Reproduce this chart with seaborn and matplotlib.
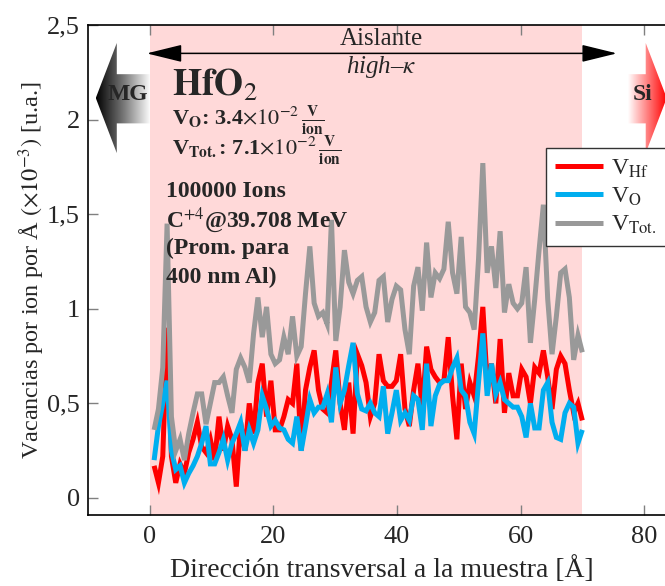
import numpy as np
import pandas as pd
import matplotlib
matplotlib.use("Agg")
import matplotlib.pyplot as plt
import seaborn as sns
from matplotlib.patches import Polygon
from matplotlib.colors import LinearSegmentedColormap

# ---------------- data ----------------
depth = np.round(np.arange(1, 101) * 0.7, 2)  # bin positions (Å)

v_hf = [0.17, 0.08, 0.22, 0.90, 0.22, 0.08, 0.18, 0.13, 0.24, 0.31,
        0.40, 0.27, 0.24, 0.31, 0.20, 0.43, 0.25, 0.38, 0.31, 0.06,
        0.40, 0.25, 0.50, 0.34, 0.61, 0.71, 0.43, 0.62, 0.36, 0.36,
        0.43, 0.52, 0.50, 0.71, 0.25, 0.57, 0.69, 0.78, 0.57, 0.47,
        0.45, 0.61, 0.78, 0.50, 0.36, 0.61, 0.34, 0.76, 0.70, 0.61,
        0.43, 0.50, 0.76, 0.62, 0.59, 0.59, 0.62, 0.76, 0.47, 0.38,
        0.57, 0.71, 0.47, 0.80, 0.68, 0.64, 0.61, 0.62, 0.85, 0.54,
        0.31, 0.71, 0.47, 0.61, 0.54, 0.75, 1.01, 0.61, 0.71, 0.50,
        0.84, 0.45, 0.66, 0.54, 0.54, 0.68, 0.64, 0.50, 0.69, 0.66,
        0.78, 0.64, 0.47, 0.68, 0.75, 0.71, 0.57, 0.45, 0.50, 0.41]

v_o = [0.20, 0.38, 0.50, 0.62, 0.25, 0.15, 0.17, 0.08, 0.13, 0.17,
       0.22, 0.29, 0.38, 0.18, 0.18, 0.24, 0.31, 0.20, 0.29, 0.34,
       0.40, 0.25, 0.36, 0.29, 0.36, 0.54, 0.47, 0.38, 0.41, 0.37,
       0.36, 0.31, 0.29, 0.43, 0.25, 0.38, 0.52, 0.45, 0.48, 0.48,
       0.55, 0.40, 0.69, 0.50, 0.57, 0.70, 0.82, 0.55, 0.47, 0.46,
       0.50, 0.45, 0.43, 0.59, 0.34, 0.45, 0.57, 0.41, 0.45, 0.41,
       0.54, 0.52, 0.36, 0.71, 0.38, 0.54, 0.60, 0.62, 0.62, 0.69,
       0.74, 0.57, 0.54, 0.40, 0.34, 0.61, 0.87, 0.54, 0.71, 0.55,
       0.61, 0.52, 0.50, 0.48, 0.48, 0.43, 0.32, 0.50, 0.37, 0.37,
       0.57, 0.61, 0.40, 0.32, 0.31, 0.45, 0.50, 0.48, 0.29, 0.36]

v_tot = [0.36, 0.47, 0.69, 1.45, 0.43, 0.25, 0.31, 0.20, 0.34, 0.45,
         0.55, 0.55, 0.39, 0.50, 0.61, 0.61, 0.64, 0.54, 0.45, 0.68,
         0.74, 0.69, 0.61, 0.87, 1.06, 0.85, 1.01, 0.76, 0.71, 0.73,
         0.85, 0.76, 0.96, 0.75, 0.80, 1.08, 1.33, 1.03, 0.96, 0.98,
         0.92, 1.47, 0.83, 1.01, 1.31, 1.14, 1.08, 1.15, 1.17, 1.01,
         0.93, 0.98, 1.15, 1.17, 0.93, 1.05, 1.12, 1.10, 0.89, 0.76,
         1.12, 1.22, 0.99, 1.35, 1.06, 1.19, 1.16, 1.21, 1.46, 1.19,
         1.08, 1.38, 1.01, 0.98, 0.89, 1.26, 1.77, 1.19, 1.33, 1.11,
         1.41, 0.98, 1.13, 1.03, 1.00, 1.03, 1.22, 0.82, 1.05, 1.31,
         1.55, 1.05, 0.76, 0.96, 1.19, 1.21, 1.06, 0.73, 0.86, 0.77]

series_labels = [r"V$_{\mathrm{Hf}}$", r"V$_{\mathrm{O}}$", r"V$_{\mathrm{Tot.}}$"]
series_colors = ["#FF0000", "#00AEEF", "#999999"]

xticks = [0, 20, 40, 60, 80]
yticks = [0, 0.5, 1, 1.5, 2, 2.5]
ytick_labels = ["0", "0,5", "1", "1,5", "2", "2,5"]

# ---------------- style ----------------
sns.set_style("white")
plt.rcParams["font.family"] = ["Liberation Serif", "DejaVu Serif"]
plt.rcParams["mathtext.fontset"] = "stix"
plt.rcParams["lines.solid_joinstyle"] = "miter"
plt.rcParams["lines.solid_capstyle"] = "butt"

df = pd.DataFrame({
    "x": np.concatenate([depth, depth, depth]),
    "y": v_hf + v_o + v_tot,
    "serie": [series_labels[0]] * 100 + [series_labels[1]] * 100 + [series_labels[2]] * 100,
})

fig = plt.figure(figsize=(6.65, 5.86), dpi=100)
ax = fig.add_axes([88 / 665, 71 / 586, 587 / 665, 490 / 586])

ax.axvspan(0, 70, color="#FFD9D9", lw=0, zorder=0)

sns.lineplot(data=df, x="x", y="y", hue="serie", palette=series_colors,
             hue_order=series_labels, lw=3.6, errorbar=None, ax=ax, zorder=3)
for ln in ax.get_lines():
    ln.set_solid_joinstyle("miter")
    ln.set_solid_capstyle("butt")

# gradient arrows
def grad_arrow(ax, verts, x0, x1, y0, y1, cmap):
    poly = Polygon(verts, closed=True, facecolor="none", edgecolor="none")
    ax.add_patch(poly)
    grad = np.linspace(0, 1, 256).reshape(1, -1)
    im = ax.imshow(grad, extent=[x0, x1, y0, y1], cmap=cmap, aspect="auto",
                   interpolation="bicubic", zorder=2, origin="lower")
    im.set_clip_path(poly)

mg_verts = [(-8.74, 2.114), (-5.34, 2.405), (-5.34, 2.24), (0.0, 2.24),
            (0.0, 1.98), (-5.34, 1.98), (-5.34, 1.823)]
grad_arrow(ax, mg_verts, -8.74, 0.0, 1.82, 2.41,
           LinearSegmentedColormap.from_list("g", ["#000000", "#777777", "#FFFFFF"]))
si_verts = [(83.66, 2.114), (80.26, 2.405), (80.26, 2.24), (77.4, 2.24),
            (77.4, 1.98), (80.26, 1.98), (80.26, 1.823)]
grad_arrow(ax, si_verts, 77.4, 83.66, 1.82, 2.41,
           LinearSegmentedColormap.from_list("r", ["#FFFFFF", "#FF8080", "#FF0000"]))

ax.text(-3.6, 2.104, "MG", fontsize=17, fontweight="bold", ha="center", va="baseline", zorder=4)
ax.text(79.7, 2.104, "Si", fontsize=17, fontweight="bold", ha="center", va="baseline", zorder=4)

# Aislante arrow
ax.annotate("", xy=(-0.5, 2.35), xytext=(75.6, 2.35),
            arrowprops=dict(arrowstyle="<|-|>,head_length=1.1,head_width=0.27",
                            mutation_scale=20, color="black", lw=1.1,
                            shrinkA=0, shrinkB=0), zorder=4)
ax.text(37.5, 2.394, "Aislante", fontsize=18, ha="center", va="baseline")
ax.text(37.5, 2.246, r"high–$\kappa$", fontsize=18, ha="center", va="baseline", fontstyle="italic")

# annotations
ax.text(3.56, 2.18, r"$\mathbf{HfO}_{2}$", fontsize=27, ha="left", va="center")
ax.text(3.56, 1.972, r"V$_{\mathbf{O}}$: 3.4$\times 10^{-2}\,\frac{\mathbf{V}}{\mathbf{ion}}$",
        fontsize=16, fontweight="bold", ha="left", va="baseline")
ax.text(3.56, 1.812, r"V$_{\mathbf{Tot.}}$: 7.1$\times 10^{-2}\,\frac{\mathbf{V}}{\mathbf{ion}}$",
        fontsize=16, fontweight="bold", ha="left", va="baseline")
ax.text(2.6, 1.59, "100000 Ions", fontsize=17, fontweight="bold", va="baseline")
ax.text(2.6, 1.432, r"C$^{+4}$@39.708 MeV", fontsize=17, fontweight="bold", va="baseline")
ax.text(2.6, 1.29, "(Prom. para", fontsize=17, fontweight="bold", va="baseline")
ax.text(2.6, 1.136, "400 nm Al)", fontsize=17, fontweight="bold", va="baseline")

# axes
ax.set_xlim(-10, 85)
ax.set_ylim(-0.09, 2.5)
ax.set_xticks(xticks)
ax.set_yticks(yticks)
ax.set_yticklabels(ytick_labels)
ax.tick_params(axis="both", which="both", direction="in", length=7, width=1,
               color="#808080", labelsize=19, top=True, right=True,
               left=True, bottom=True)
ax.tick_params(axis="x", pad=8)
ax.tick_params(axis="y", pad=6)
for s in ax.spines.values():
    s.set_color("black")
    s.set_linewidth(1.2)

ax.set_xlabel("Dirección transversal a la muestra [Å]", fontsize=20, labelpad=6)
ax.set_ylabel(r"Vacancias por ion por Å $(\times 10^{-3})$ [u.a.]", fontsize=17.5, labelpad=0)

leg = ax.legend(loc="upper left", bbox_to_anchor=(0.780, 0.749), borderaxespad=0,
                fontsize=17, handlelength=2.0, labelspacing=0.25, borderpad=0.4,
                handletextpad=0.35, frameon=True, fancybox=False, framealpha=1,
                edgecolor="#333333")
leg.get_frame().set_linewidth(1.0)
leg.set_zorder(5)

fig.savefig("out.png", dpi=100)
